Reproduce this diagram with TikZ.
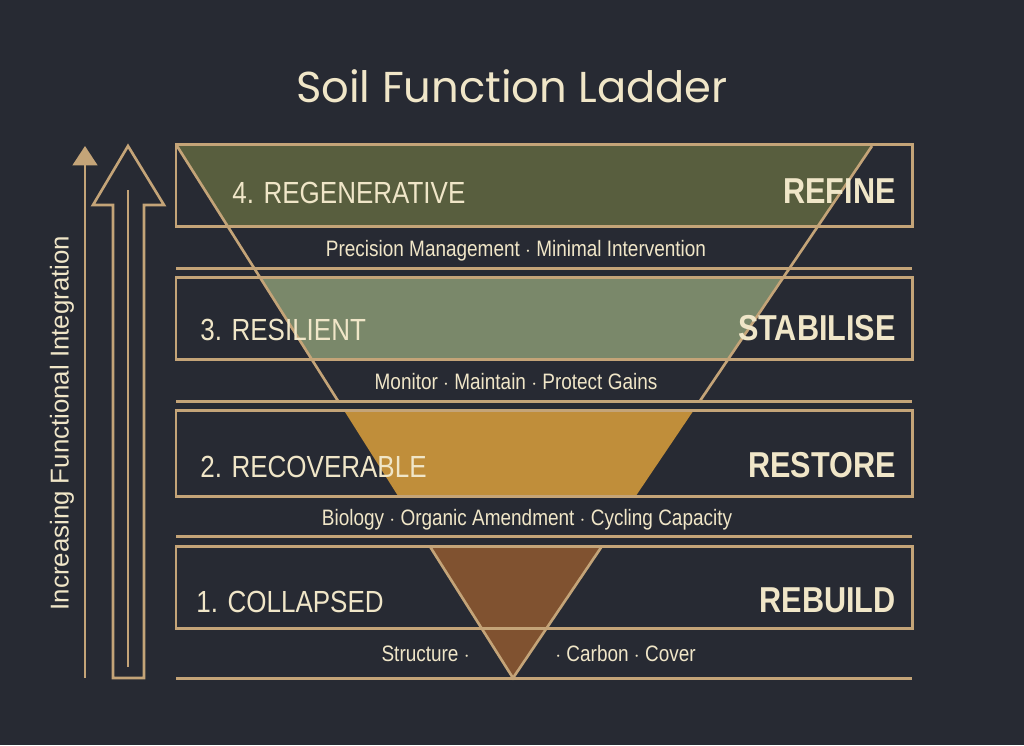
\documentclass[tikz,border=0pt]{standalone}
\usepackage{fontspec}
\setmainfont{Liberation Sans}
\newfontfamily\titlefont{Poppins}
\newfontfamily\narrowfont[FakeStretch=0.85]{Liberation Sans}
\usetikzlibrary{arrows.meta}
\definecolor{bgdark}{RGB}{39,42,51}
\definecolor{goldline}{RGB}{196,164,120}
\definecolor{creamtext}{RGB}{240,230,200}
\definecolor{olivefill}{RGB}{88,94,62}
\definecolor{sagefill}{RGB}{122,136,106}
\definecolor{ochrefill}{RGB}{192,142,58}
\definecolor{rustfill}{RGB}{128,82,48}
\tikzset{
  tierbox/.style={draw=goldline, line width=1.7pt},
  rung/.style={draw=goldline, line width=1.7pt},
  tiername/.style={text=creamtext, font=\narrowfont\fontsize{17.4}{20}\selectfont, anchor=base west, inner sep=0pt},
  tierverb/.style={text=creamtext, font=\narrowfont\bfseries\fontsize{20.5}{24}\selectfont, anchor=base east, inner sep=0pt},
  tiernote/.style={text=creamtext, font=\narrowfont\fontsize{12.7}{15}\selectfont, anchor=base, inner sep=0pt},
}

\begin{document}
\begin{tikzpicture}[x=0.02cm, y=-0.02cm]
\fill[bgdark] (0,0) rectangle (1024,745);
\useasboundingbox (0,0) rectangle (1024,745);

\node[text=creamtext, font=\titlefont\fontsize{24.6}{30}\selectfont, anchor=base, inner sep=0pt] (title) at (512,102) {Soil Function Ladder};

\coordinate (funL) at (177,146);
\coordinate (funR) at (872,146);
\coordinate (funA) at (513,678);

\foreach \top/\bot/\col in {144/226/olivefill, 277/359/sagefill, 410/496/ochrefill, 546/678/rustfill} {
  \begin{scope}
    \clip (176,\top) rectangle (912,\bot);
    \fill[\col] (funL) -- (funR) -- (funA) -- cycle;
  \end{scope}
}

\begin{scope}
  \clip (0,144) rectangle (1024,401) (0,546) rectangle (1024,680);
  \draw[goldline, line width=1.5pt] (funL) -- (funA) -- (funR);
\end{scope}

\foreach \top/\bot/\rl in {144/226/268, 277/359/401, 410/496/536, 546/628/678} {
  \draw[tierbox] (176,\top) rectangle (912,\bot);
  \draw[rung] (176,\rl) -- (912,\rl);
}

\foreach \n/\x/\y/\name/\verb in {4/232/203/4. REGENERATIVE/REFINE, 3/200/340/3. RESILIENT/STABILISE, 2/200/477/2. RECOVERABLE/RESTORE, 1/196/612/1. COLLAPSED/REBUILD} {
  \node[tiername] (name\n) at (\x,\y) {\name};
  \node[tierverb] (verb\n) at (896,\y) {\verb};
}

\node[tiernote] (note4) at (516,256) {Precision Management $\cdot$ Minimal Intervention};
\node[tiernote] (note3) at (516,389) {Monitor $\cdot$ Maintain $\cdot$ Protect Gains};
\node[tiernote] (note2) at (527,525) {Biology $\cdot$ Organic Amendment $\cdot$ Cycling Capacity};
\node[tiernote, anchor=base east] (note1a) at (470,661) {Structure $\cdot$};
\node[tiernote, anchor=base west] (note1b) at (555,661) {$\cdot$ Carbon $\cdot$ Cover};

\coordinate (thinbot) at (85,678);
\coordinate (thintop) at (85,146);
\draw[goldline, line width=1.5pt, -{Triangle[length=11pt, width=14pt]}] (thinbot) -- (thintop);

\draw[goldline, line width=1.5pt, line join=miter] (113,678) -- (113,205) -- (93,205) -- (128,146) -- (164,205) -- (144,205) -- (144,678) -- cycle;
\coordinate (innerbot) at (128,667);
\coordinate (innertop) at (128,190);
\draw[goldline, line width=1.5pt] (innerbot) -- (innertop);

\node[text=creamtext, font=\fontsize{14.7}{17}\selectfont, rotate=90, inner sep=0pt] (axis) at (62,423) {Increasing Functional Integration};
\end{tikzpicture}
\end{document}
